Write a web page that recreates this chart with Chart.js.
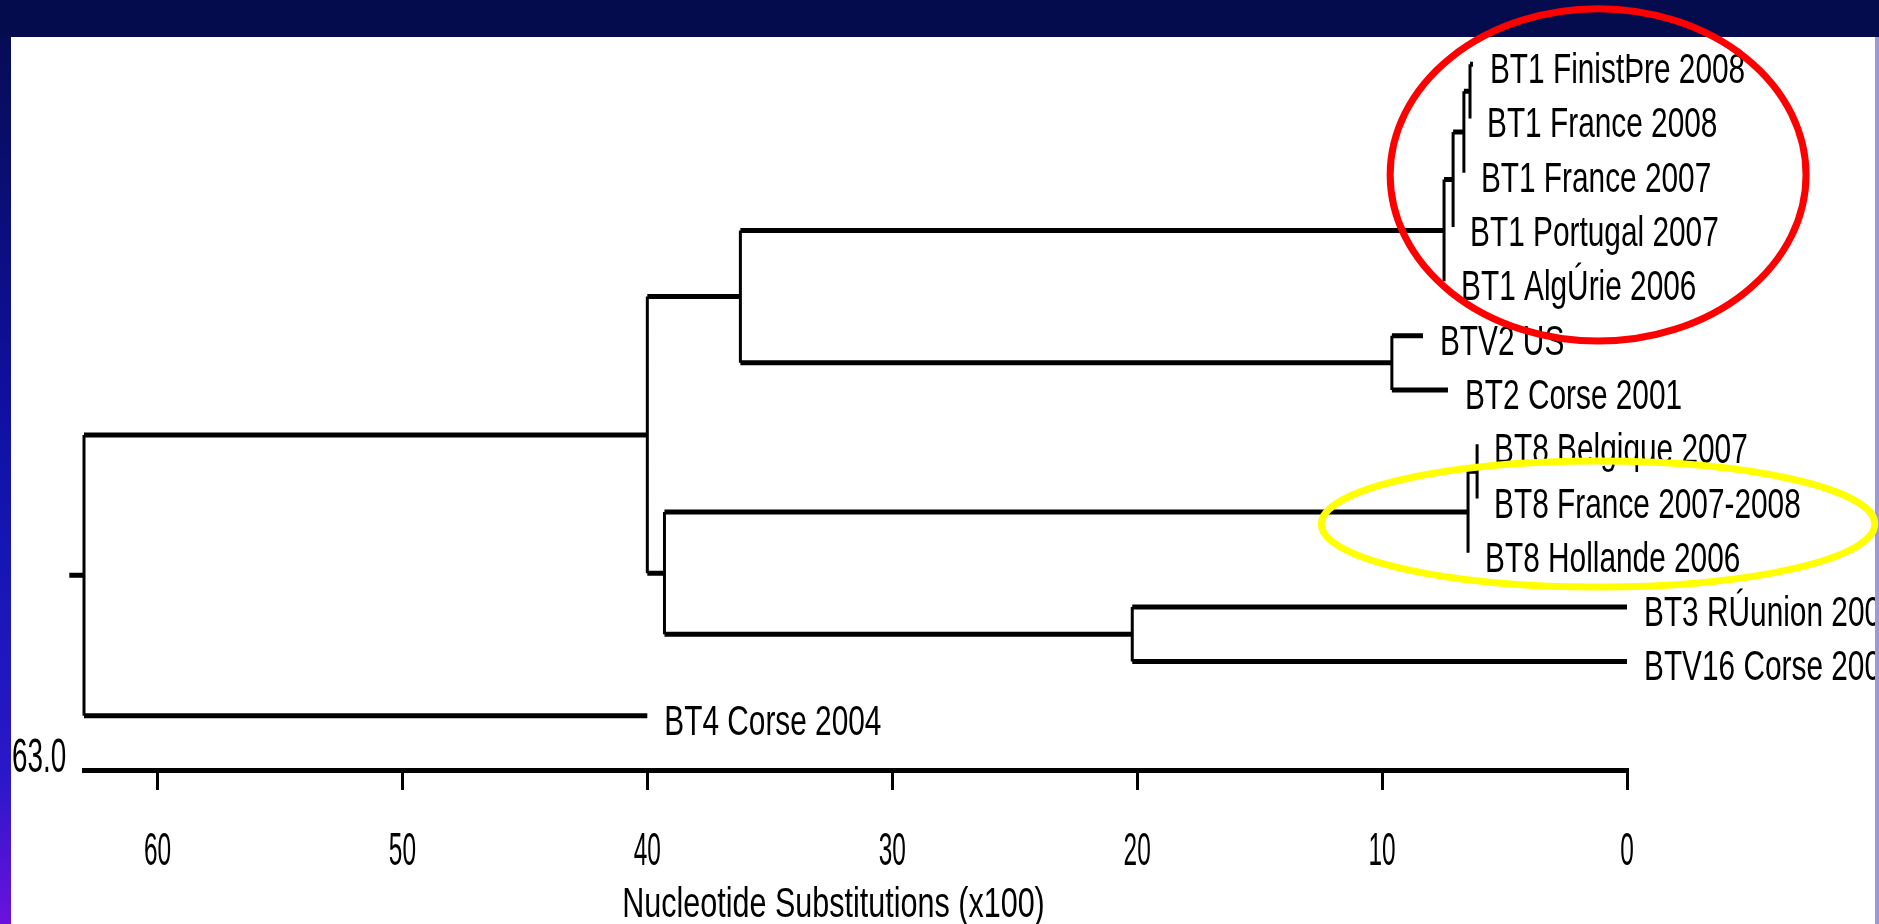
<!DOCTYPE html>
<html>
<head>
<meta charset="utf-8">
<script src="https://cdn.jsdelivr.net/npm/chart.js@4.4.1/dist/chart.umd.min.js"></script>
<style>
html, body { margin: 0; padding: 0; background: #fff; overflow: hidden; }
#chart { display: block; }
</style>
</head>
<body>
<canvas id="chart" width="1879" height="924"></canvas>
<script>
'use strict';

// leaves, top to bottom
const leafLabels = [
    'BT1 FinistÞre 2008',
    'BT1 France 2008',
    'BT1 France 2007',
    'BT1 Portugal 2007',
    'BT1 AlgÚrie 2006',
    'BTV2 US',
    'BT2 Corse 2001',
    'BT8 Belgique 2007',
    'BT8 France 2007-2008',
    'BT8 Hollande 2006',
    'BT3 RÚunion 200',
    'BTV16 Corse 200',
    'BT4 Corse 2004'
];
const leafDepths = [6.29, 6.41, 6.66, 7.10, 7.47, 8.33, 7.31, 6.12, 6.12, 6.49, 0, 0, 40.0];

// internal nodes; children point at leaves (L) or other nodes (N)
const nodeDepths = [6.41, 6.66, 7.10, 7.47, 9.60, 36.2, 6.12, 6.49, 20.2, 39.3, 40.0, 63.0];
const nodeChildren = [
    ['L0', 'L1'], ['N0', 'L2'], ['N1', 'L3'], ['N2', 'L4'], ['L5', 'L6'], ['N3', 'N4'],
    ['L7', 'L8'], ['N6', 'L9'], ['L10', 'L11'], ['N7', 'N8'], ['N5', 'N9'], ['N10', 'L12']
];
const rootStubStart = 63.6;
const rootLabel = '63.0';

const tickValues = [60, 50, 40, 30, 20, 10, 0];
const axisTitle = 'Nucleotide Substitutions (x100)';

// circled groups, in axis units
const rings = [
    { color: '#ff0000', cx: 1.18, cy: 2.04, rx: 8.49, ry: 3.06 },
    { color: '#ffff00', cx: 1.18, cy: 8.47, rx: 11.3, ry: 1.16 }
];

function place(ref) {
    const i = parseInt(ref.slice(1));
    if (ref[0] === 'L') return { x: leafDepths[i], y: i };
    const kids = nodeChildren[i].map(place);
    return { x: nodeDepths[i], y: (kids[0].y + kids[kids.length - 1].y) / 2, kids: kids };
}

const gap = { x: null, y: null };
const horiz = [];
const vert = [];

function walk(node) {
    if (!node.kids) return;
    const last = node.kids[node.kids.length - 1];
    vert.push({ x: node.x, y: node.kids[0].y }, { x: node.x, y: last.y }, gap);
    node.kids.forEach(k => {
        horiz.push({ x: node.x, y: k.y }, { x: k.x, y: k.y }, gap);
        walk(k);
    });
}

const root = place('N' + (nodeDepths.length - 1));
horiz.push({ x: rootStubStart, y: root.y }, { x: root.x, y: root.y }, gap);
walk(root);

function squeezeText(ctx, text, x, y, size, sx, align) {
    ctx.save();
    ctx.font = size + 'px "Liberation Sans", Arial, sans-serif';
    ctx.textBaseline = 'alphabetic';
    ctx.textAlign = align;
    ctx.fillStyle = '#000';
    ctx.translate(x, y);
    ctx.scale(sx, 1);
    ctx.fillText(text, 0, 0);
    ctx.restore();
}

const slideFrame = {
    id: 'slideFrame',
    beforeDraw(chart) {
        const ctx = chart.ctx;
        const w = chart.width, h = chart.height;
        ctx.save();
        ctx.fillStyle = '#ffffff';
        ctx.fillRect(0, 0, w, h);
        ctx.fillStyle = '#050c4e';
        ctx.fillRect(0, 0, w, 37);
        const g = ctx.createLinearGradient(0, 0, 0, h);
        g.addColorStop(0, '#050c4e');
        g.addColorStop(0.43, '#0f10a0');
        g.addColorStop(0.6, '#1616b4');
        g.addColorStop(0.84, '#2a18c8');
        g.addColorStop(1, '#6a12dc');
        ctx.fillStyle = g;
        ctx.fillRect(0, 37, 11, h - 37);
        ctx.restore();
    },
    afterDraw(chart) {
        const ctx = chart.ctx;
        const xs = chart.scales.x, ys = chart.scales.y;
        const area = chart.chartArea;

        leafLabels.forEach((name, i) => {
            const px = xs.getPixelForValue(leafDepths[i]) + 17;
            const py = ys.getPixelForValue(i) + 19;
            squeezeText(ctx, name, px, py, 42, 0.71, 'left');
        });

        tickValues.forEach(v => {
            squeezeText(ctx, String(v), xs.getPixelForValue(v), area.bottom + 95, 47, 0.52, 'center');
        });
        squeezeText(ctx, axisTitle, (area.left + area.right) / 2 - 22, area.bottom + 147, 43, 0.71, 'center');
        squeezeText(ctx, rootLabel, 12, area.bottom + 2, 48, 0.58, 'left');

        ctx.save();
        ctx.fillStyle = '#9a9ad8';
        ctx.fillRect(chart.width - 4, 37, 4, chart.height - 37);
        rings.forEach(r => {
            const cx = xs.getPixelForValue(r.cx);
            const cy = ys.getPixelForValue(r.cy);
            const rx = Math.abs(xs.getPixelForValue(r.cx + r.rx) - cx);
            const ry = Math.abs(ys.getPixelForValue(r.cy + r.ry) - cy);
            ctx.beginPath();
            ctx.ellipse(cx, cy, rx, ry, 0, 0, Math.PI * 2);
            ctx.lineWidth = 7;
            ctx.strokeStyle = r.color;
            ctx.stroke();
        });
        ctx.restore();
    }
};

const config = {
    type: 'scatter',
    data: {
        datasets: [{
            label: 'branches',
            data: horiz,
            showLine: true,
            borderColor: '#000',
            borderWidth: 5,
            pointRadius: 0,
            spanGaps: false,
            clip: false
        }, {
            label: 'nodes',
            data: vert,
            showLine: true,
            borderColor: '#000',
            borderWidth: 3,
            pointRadius: 0,
            spanGaps: false,
            clip: false
        }]
    },
    options: {
        responsive: false,
        devicePixelRatio: 1,
        animation: false,
        layout: { padding: { left: 84, right: 252, top: 37, bottom: 0 } },
        plugins: {
            legend: { display: false },
            tooltip: { enabled: false }
        },
        scales: {
            x: {
                type: 'linear',
                reverse: true,
                min: 0,
                max: 63,
                afterBuildTicks: s => { s.ticks = tickValues.map(v => ({ value: v })); },
                afterFit: s => { s.height = 154; },
                ticks: { display: false },
                grid: { drawOnChartArea: false, drawTicks: true, tickLength: 20, color: '#000', lineWidth: 3 },
                border: { display: true, color: '#000', width: 5 }
            },
            y: {
                type: 'linear',
                reverse: true,
                min: -0.5,
                max: 13,
                display: false
            }
        }
    },
    plugins: [slideFrame]
};

const myChart = new Chart(document.querySelector('#chart'), config);
</script>
</body>
</html>
